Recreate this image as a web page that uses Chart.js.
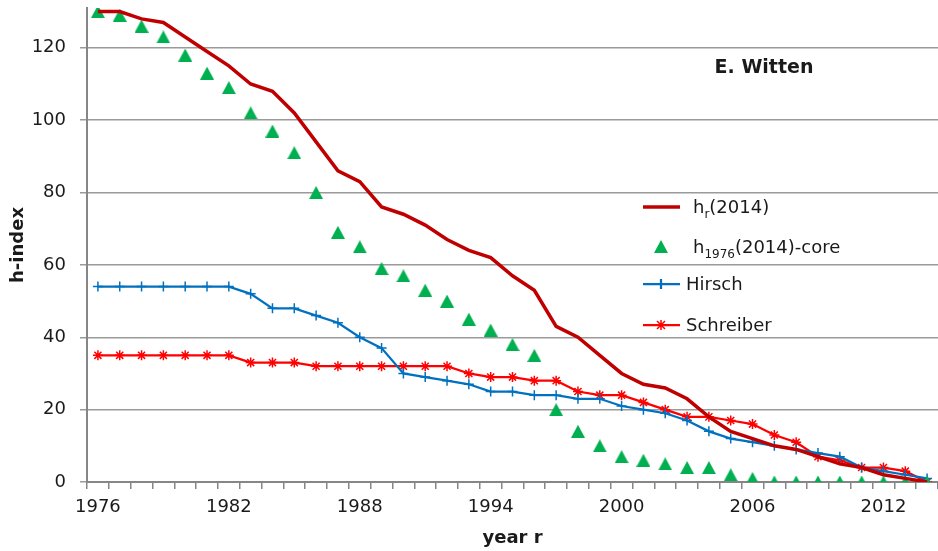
<!DOCTYPE html>
<html>
<head>
<meta charset="utf-8">
<script src="https://cdn.jsdelivr.net/npm/chart.js@4/dist/chart.umd.min.js"></script>
<style>
  html, body { margin: 0; padding: 0; background: #fff; }
  #wrap { width: 938px; height: 551px; }
</style>
</head>
<body>
<div id="wrap"><canvas id="myChart" width="938" height="551"></canvas></div>
<script>
const years = [1976, 1977, 1978, 1979, 1980, 1981, 1982, 1983, 1984, 1985, 1986, 1987, 1988,
  1989, 1990, 1991, 1992, 1993, 1994, 1995, 1996, 1997, 1998, 1999, 2000, 2001, 2002,
  2003, 2004, 2005, 2006, 2007, 2008, 2009, 2010, 2011, 2012, 2013, 2014];
const hr = [130, 130, 128, 127, 123, 119, 115, 110, 108, 102, 94, 86, 83,
  76, 74, 71, 67, 64, 62, 57, 53, 43, 40, 35, 30, 27, 26,
  23, 18, 14, 12, 10, 9, 7, 5, 4, 2, 1, 0];
const core = [130, 129, 126, 123, 118, 113, 109, 102, 97, 91, 80, 69, 65,
  59, 57, 53, 50, 45, 42, 38, 35, 20, 14, 10, 7, 6, 5,
  4, 4, 2, 1, 0, 0, 0, 0, 0, 0, 0, 0];
const hirsch = [54, 54, 54, 54, 54, 54, 54, 52, 48, 48, 46, 44, 40,
  37, 30, 29, 28, 27, 25, 25, 24, 24, 23, 23, 21, 20, 19,
  17, 14, 12, 11, 10, 9, 8, 7, 4, 3, 2, 1];
const schreiber = [35, 35, 35, 35, 35, 35, 35, 33, 33, 33, 32, 32, 32,
  32, 32, 32, 32, 30, 29, 29, 28, 28, 25, 24, 24, 22, 20,
  18, 18, 17, 16, 13, 11, 7, 6, 4, 4, 3, 0];
const yTicks = [0, 20, 40, 60, 80, 100, 120];
const xLabelEvery = 6;

const FONT = 'DejaVu Sans';
const TXT = '#1a1a1a';
const GRID = '#9a9a9a';
const AXIS = '#868686';

// triangle marker, centred on its box like Excel does
const tri = document.createElement('canvas');
tri.width = 14; tri.height = 13;
(function () {
  const t = tri.getContext('2d');
  t.fillStyle = '#00B050';
  t.beginPath(); t.moveTo(7, 0); t.lineTo(14, 13); t.lineTo(0, 13); t.closePath(); t.fill();
})();

// legend + name label, drawn on top
const extras = {
  id: 'extras',
  afterDraw(chart) {
    const c = chart.ctx;
    c.save();
    c.fillStyle = TXT;
    c.textBaseline = 'alphabetic';

    c.font = 'bold 19px ' + FONT;
    c.textAlign = 'center';
    c.fillText('E. Witten', 764, 73);
    c.textAlign = 'left';

    function sub(x, y, parts) {
      for (const [t, small] of parts) {
        c.font = (small ? '12px ' : '18px ') + FONT;
        c.fillText(t, x, y + (small ? 5 : 0));
        x += c.measureText(t).width;
      }
    }
    // h_r(2014)
    c.strokeStyle = '#C00000'; c.lineWidth = 3.5;
    c.beginPath(); c.moveTo(643, 207); c.lineTo(680, 207); c.stroke();
    sub(693, 213, [['h', 0], ['r', 1], ['(2014)', 0]]);
    // core
    c.drawImage(tri, 654, 240);
    sub(693, 253, [['h', 0], ['1976', 1], ['(2014)-core', 0]]);
    // Hirsch
    c.strokeStyle = '#0070C0'; c.lineWidth = 2.25;
    c.beginPath(); c.moveTo(643, 284); c.lineTo(680, 284); c.moveTo(661, 279); c.lineTo(661, 289); c.stroke();
    c.font = '18px ' + FONT; c.fillText('Hirsch', 686, 290);
    // Schreiber
    c.strokeStyle = '#FF0000';
    c.beginPath(); c.moveTo(643, 325); c.lineTo(680, 325); c.stroke();
    c.lineWidth = 1.5;
    c.beginPath();
    c.moveTo(657, 321); c.lineTo(665, 329); c.moveTo(665, 321); c.lineTo(657, 329);
    c.moveTo(661, 320); c.lineTo(661, 330);
    c.stroke();
    c.fillText('Schreiber', 686, 331);
    c.restore();
  }
};

new Chart(document.getElementById('myChart'), {
  type: 'line',
  data: {
    labels: years,
    datasets: [{
      label: 'hr(2014)',
      data: hr,
      borderColor: '#C00000',
      borderWidth: 3.5,
      pointRadius: 0,
      tension: 0
    }, {
      label: 'h1976(2014)-core',
      data: core,
      showLine: false,
      pointStyle: tri,
      pointRadius: 7
    }, {
      label: 'Hirsch',
      data: hirsch,
      borderColor: '#0070C0',
      borderWidth: 2.25,
      pointStyle: 'cross',
      pointRadius: 5,
      pointBorderColor: '#0070C0',
      pointBorderWidth: 1.5,
      tension: 0
    }, {
      label: 'Schreiber',
      data: schreiber,
      borderColor: '#FF0000',
      borderWidth: 2.25,
      pointStyle: 'star',
      pointRadius: 5,
      pointBorderColor: '#FF0000',
      pointBorderWidth: 1.5,
      tension: 0
    }]
  },
  options: {
    responsive: false,
    animation: false,
    devicePixelRatio: 1,
    layout: { autoPadding: false, padding: { top: 8, right: 0, left: 0, bottom: 0 } },
    plugins: { legend: { display: false }, tooltip: { enabled: false } },
    scales: {
      x: {
        offset: true,
        grid: { offset: true, drawOnChartArea: false, color: AXIS, tickLength: 7, lineWidth: 1.5 },
        border: { color: AXIS, width: 2 },
        ticks: {
          autoSkip: false, maxRotation: 0, padding: 8, color: TXT,
          font: { family: FONT, size: 18 },
          callback: function (v, i) { return (years[i] - years[0]) % xLabelEvery === 0 ? String(years[i]) : ''; }
        },
        title: { display: true, text: 'year r', color: TXT, font: { family: FONT, size: 18, weight: 'bold' }, padding: { top: 0, bottom: 2 } },
        afterFit: function (s) { s.height = 69; s.paddingLeft = 0; s.paddingRight = 0; }
      },
      y: {
        min: 0,
        max: 131,
        afterBuildTicks: function (s) { s.ticks = yTicks.map(v => ({ value: v })); },
        grid: { color: GRID, lineWidth: 1.5, tickLength: 7 },
        border: { color: AXIS, width: 2 },
        ticks: { padding: 14, color: TXT, font: { family: FONT, size: 18 } },
        title: { display: true, text: 'h-index', color: TXT, font: { family: FONT, size: 18, weight: 'bold' }, padding: { top: 8, bottom: 0 } },
        afterFit: function (s) { s.width = 87; s.paddingTop = 0; s.paddingBottom = 0; }
      }
    }
  },
  plugins: [extras]
});
</script>
</body>
</html>
